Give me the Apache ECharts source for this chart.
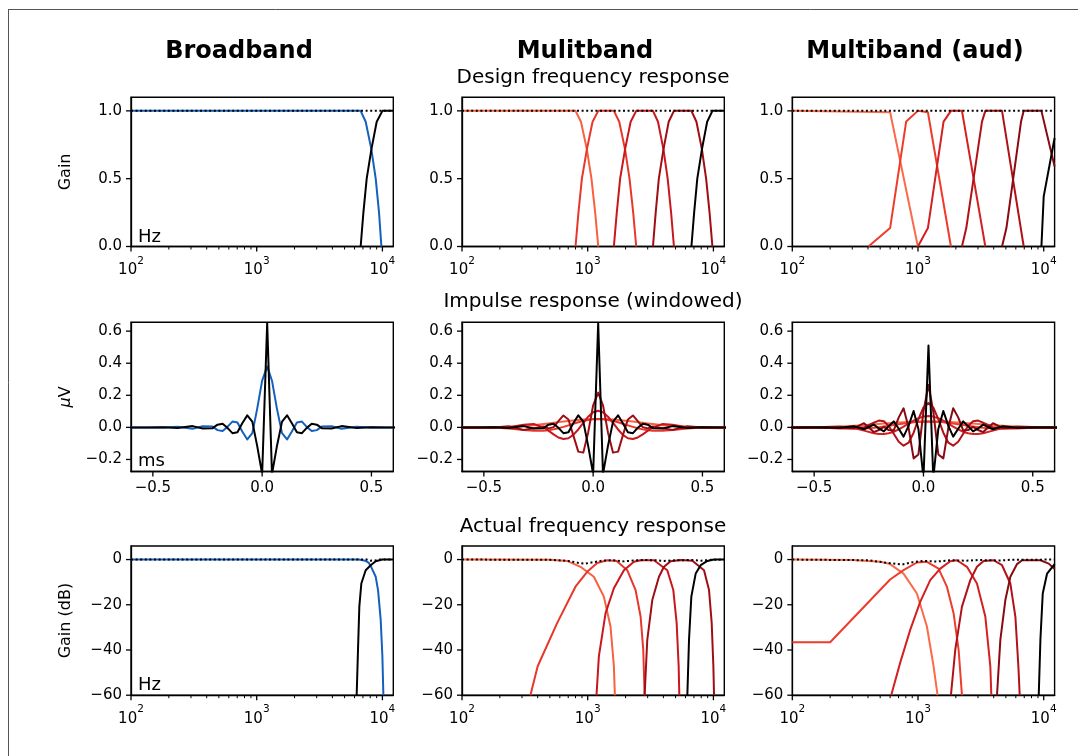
<!DOCTYPE html>
<html>
<head>
<meta charset="utf-8">
<script src="https://cdn.jsdelivr.net/npm/echarts@6.0.0/dist/echarts.min.js"></script>
<style>
  html, body { margin: 0; padding: 0; background: #ffffff; }
  #chart { width: 1078px; height: 756px; }
</style>
</head>
<body>
<div id="chart"></div>
<script>
// ---------- tick positions ----------
const FREQ_TICKS = [100, 1000, 10000];
const FREQ_MINOR = [200, 300, 400, 500, 600, 700, 800, 900, 2000, 3000, 4000, 5000, 6000, 7000, 8000, 9000];
const TIME_TICKS = [-0.5, 0, 0.5];
const GAIN_TICKS = [0, 0.5, 1.0];
const IMP_TICKS = [-0.2, 0, 0.2, 0.4, 0.6];
const DB_TICKS = [-60, -40, -20, 0];

// ---------- column / row titles ----------
const COL_TITLES = ['Broadband', 'Mulitband', 'Multiband (aud)'];
const ROW_TITLES = ['Design frequency response', 'Impulse response (windowed)', 'Actual frequency response'];
const Y_NAMES = ['Gain', '{i|\u03bc}V', 'Gain (dB)'];

// ---------- design frequency response (Hz, linear gain) ----------
const bbDesignLow  = [[100, 1], [6714, 1], [7362, 0.92], [8170, 0.716], [8844, 0.5], [9400, 0.25], [9817, 0]];
const bbDesignHigh = [[6714, 0], [7057, 0.25], [7499, 0.5], [8170, 0.716], [9007, 0.92], [10000, 1], [12207, 1]];
const bbDesignSum  = [[100, 1], [12207, 1]];

const mbDesign1 = [[100, 1], [800, 1], [884, 0.92], [985, 0.716], [1071, 0.5], [1147, 0.25], [1213, 0]];
const mbDesign2 = [[800, 0], [844, 0.25], [899, 0.5], [985, 0.716], [1093, 0.92], [1213, 1], [1615, 1], [1782, 0.92], [1982, 0.716], [2151, 0.5], [2301, 0.25], [2432, 0]];
const mbDesign3 = [[1615, 0], [1703, 0.25], [1811, 0.5], [1982, 0.716], [2196, 0.92], [2432, 1], [3305, 1], [3624, 0.92], [4005, 0.716], [4326, 0.5], [4607, 0.25], [4853, 0]];
const mbDesign4 = [[3305, 0], [3474, 0.25], [3680, 0.5], [4005, 0.716], [4409, 0.92], [4853, 1], [6683, 1], [7329, 0.92], [8102, 0.716], [8749, 0.5], [9320, 0.25], [9820, 0]];
const mbDesignHigh = [[6683, 0], [7026, 0.25], [7443, 0.5], [8102, 0.716], [8918, 0.92], [9820, 1], [12207, 1]];
const mbDesignSum  = [[100, 1], [12207, 1]];

const audDesign1 = [[100, 1], [600, 0.99], [998, 0]];
const audDesign2 = [[403, 0], [600, 0.136], [805, 0.921], [998, 1], [1199, 0.99], [1828, 0]];
const audDesign3 = [[998, 0], [1199, 0.136], [1597, 0.921], [1828, 1], [2237, 1], [3432, 0]];
const audDesign4 = [[2237, 0], [2421, 0.136], [3228, 0.921], [3432, 1], [4660, 1], [6933, 0]];
const audDesign5 = [[4660, 0], [5050, 0.136], [6601, 0.921], [6933, 1], [9588, 1], [12207, 0.59]];
const audDesignHigh = [[9588, 0], [10000, 0.37], [12207, 0.8]];
const audDesignSum  = [[100, 1], [12207, 1]];

// ---------- impulse responses (ms, µV) ----------
const IMP_T = [-0.613, -0.522, -0.454, -0.386, -0.318, -0.272, -0.227, -0.204, -0.181, -0.159, -0.136, -0.113, -0.091, -0.068, -0.045, -0.023, 0.000,
               0.023, 0.045, 0.068, 0.091, 0.114, 0.136, 0.159, 0.182, 0.204, 0.227, 0.250, 0.273, 0.318, 0.363, 0.431, 0.500, 0.568, 0.613];

const bbImpLow  = [0, 0, -0.001, 0.004, -0.008, 0.007, 0.005, -0.017, -0.023, 0.003, 0.036, 0.030, -0.026, -0.075, -0.036, 0.114, 0.291,
                   0.38, 0.291, 0.114, -0.036, -0.075, -0.026, 0.030, 0.036, 0.003, -0.023, -0.017, 0.005, 0.007, -0.008, 0.004, -0.001, 0, 0];
const bbImpHigh = [0, 0, 0.001, -0.004, 0.008, -0.007, -0.005, 0.017, 0.023, -0.003, -0.036, -0.030, 0.026, 0.075, 0.036, -0.114, -0.291,
                   0.65, -0.291, -0.114, 0.036, 0.075, 0.026, -0.030, -0.036, -0.003, 0.023, 0.017, -0.005, -0.007, 0.008, -0.004, 0.001, 0, 0];

const mbImp1 = [0, 0, 0.0003, 0.0025, 0.0081, 0.0138, 0.0209, 0.0248, 0.0288, 0.0328, 0.0366, 0.0403, 0.0436, 0.0465, 0.0489, 0.0506, 0.0516,
                0.052, 0.0516, 0.0506, 0.0489, 0.0465, 0.0436, 0.0403, 0.0366, 0.0328, 0.0288, 0.0248, 0.0209, 0.0138, 0.0081, 0.0025, 0.0003, 0, 0];
const mbImp2 = [0, 0, -0.0008, -0.0068, -0.0168, -0.0215, -0.0208, -0.0177, -0.0125, -0.0055, 0.003, 0.0125, 0.0223, 0.0318, 0.0401, 0.0465, 0.0506,
                0.052, 0.0506, 0.0465, 0.0401, 0.0318, 0.0223, 0.0125, 0.003, -0.0055, -0.0125, -0.0177, -0.0208, -0.0215, -0.0168, -0.0068, -0.0008, 0, 0];
const mbImp3 = [0, 0, -0.0005, 0.0008, 0.0161, 0.0208, -0.0002, -0.0208, -0.0436, -0.0629, -0.0725, -0.0677, -0.047, -0.0131, 0.0277, 0.0663, 0.094,
                0.104, 0.094, 0.0663, 0.0277, -0.0131, -0.047, -0.0677, -0.0725, -0.0629, -0.0436, -0.0208, -0.0002, 0.0208, 0.0161, 0.0008, -0.0005, 0, 0];
const mbImp4 = [0, -0.0002, -0.0001, 0.0075, -0.0168, -0.0054, 0.0054, -0.0061, 0.0012, 0.0394, 0.0745, 0.0494, -0.0485, -0.1512, -0.1574, -0.0331, 0.1377,
                0.2168, 0.1377, -0.0331, -0.1574, -0.1512, -0.0485, 0.0494, 0.0745, 0.0394, 0.0012, -0.0061, 0.0054, -0.0054, -0.0168, 0.0075, -0.0001, -0.0002, 0];
const mbImpHigh = bbImpHigh;

const audImp1 = [0, 0.0002, 0.0014, 0.0045, 0.0096, 0.014, 0.0189, 0.0214, 0.0239, 0.0264, 0.0287, 0.0308, 0.0327, 0.0344, 0.0357, 0.0367, 0.0372,
                 0.0374, 0.0372, 0.0367, 0.0357, 0.0344, 0.0327, 0.0308, 0.0287, 0.0264, 0.0239, 0.0214, 0.0189, 0.014, 0.0096, 0.0045, 0.0014, 0.0002, 0];
const audImp2 = [0, -0.0005, -0.003, -0.0067, -0.0085, -0.0069, -0.0022, 0.0012, 0.0052, 0.0096, 0.0143, 0.0191, 0.0237, 0.0278, 0.0313, 0.0339, 0.0356,
                 0.0361, 0.0356, 0.0339, 0.0313, 0.0278, 0.0237, 0.0191, 0.0143, 0.0096, 0.0052, 0.0012, -0.0022, -0.0069, -0.0085, -0.0067, -0.003, -0.0005, 0];
const audImp3 = [0, 0.0003, 0.0031, 0.0057, -0.0044, -0.0201, -0.0362, -0.0408, -0.0413, -0.0369, -0.0273, -0.0129, 0.0047, 0.0239, 0.0422, 0.0573, 0.0672,
                 0.0707, 0.0672, 0.0573, 0.0422, 0.0239, 0.0047, -0.0129, -0.0273, -0.0369, -0.0413, -0.0408, -0.0362, -0.0201, -0.0044, 0.0057, 0.0031, 0.0003, 0];
const audImp4 = [0, 0.0002, -0.0033, 0.0006, 0, 0, 0.0292, 0.0424, 0.038, 0.0088, -0.0401, -0.0896, -0.1143, -0.0956, -0.0332, 0.0516, 0.1238,
                 0.152, 0.1238, 0.0516, -0.0332, -0.0956, -0.1143, -0.0896, -0.0401, 0.0088, 0.038, 0.0424, 0.0292, 0, 0, 0.0006, -0.0033, 0.0002, 0];
const audImp5 = [0, 0, 0.0031, -0.0017, -0.0051, 0.0264, -0.0294, -0.0166, 0.0031, -0.0166, -0.0183, 0.0623, 0.119, -0.001, -0.1933, -0.1685, 0.0993,
                 0.265, 0.0993, -0.1685, -0.1933, -0.001, 0.119, 0.0623, -0.0183, -0.0166, 0.0031, -0.0166, -0.0294, 0.0264, -0.0051, -0.0017, 0.0031, 0, 0];
const audImpHigh = [0, 0, -0.0012, -0.0021, 0.0075, -0.0116, 0.0172, -0.0065, -0.0252, 0.0076, 0.0372, -0.0084, -0.0575, 0.0091, 0.1023, -0.0095, -0.317,
                    0.51, -0.317, -0.0095, 0.1023, 0.0091, -0.0575, -0.0084, 0.0372, 0.0076, -0.0252, -0.0065, 0.0172, -0.0116, 0.0075, -0.0021, -0.0012, 0, 0];

// ---------- actual frequency response (Hz, dB) ----------
const bbActualLow  = [[100, 0], [6500, 0], [7300, -0.5], [7800, -1.5], [8067, -2.8], [8843, -7.6], [9230, -13.5], [9693, -26.7], [9995, -42.8], [10178, -60]];
const bbActualHigh = [[6240, -60], [6395, -39.9], [6552, -20.8], [6797, -10.6], [7360, -4.7], [8067, -2.5], [8843, -0.75], [10000, 0], [12207, 0]];
const bbActualSum  = [[100, 0], [7500, 0], [8067, -0.5], [8700, -0.4], [9500, 0], [12207, 0]];

const mbActual1 = [[100, 0], [500, -0.1], [686, -0.6], [876, -3.2], [1119, -7.6], [1344, -16.4], [1519, -29.6], [1615, -47.2], [1645, -60]];
const mbActual2 = [[350, -60], [400, -47.2], [571, -28.1], [799, -12], [990, -5.4], [1190, -1.5], [1430, -0.3], [1700, -0.6], [2063, -4.7], [2404, -13.5], [2635, -25.2], [2766, -39.9], [2836, -60]];
const mbActual3 = [[1175, -60], [1227, -42.8], [1387, -23.7], [1615, -12.7], [1941, -4.7], [2331, -1], [2635, -0.3], [3365, -0.3], [4297, -4.7], [4797, -13.5], [5100, -28.1], [5291, -47.2], [5355, -60]];
const mbActual4 = [[2836, -60], [2978, -35.5], [3264, -17.9], [3688, -7.6], [4043, -3.2], [4567, -0.75], [5500, -0.2], [6800, -0.5], [8420, -4.7], [9229, -13.5], [9692, -28.1], [9993, -47.2], [10115, -60]];
const mbActualHigh = [[6203, -60], [6396, -35.5], [6674, -16.4], [7227, -6.2], [7922, -2.5], [8953, -0.6], [10115, 0], [12207, 0]];
const mbActualSum  = [[100, 0], [500, -0.1], [700, -0.6], [850, -1.5], [950, -1.8], [1100, -1.2], [1300, -0.5], [1600, -0.3], [1950, -0.8], [2300, -0.4],
                      [2800, -0.2], [3500, -0.3], [4100, -0.6], [5000, -0.3], [7000, -0.2], [8000, -0.5], [9500, -0.1], [12207, 0]];

const audActual1 = [[100, 0], [300, -0.2], [500, -1.0], [600, -2], [767, -6.2], [980, -15], [1177, -29.6], [1330, -47.2], [1431, -60]];
const audActual2 = [[100, -36.6], [200, -36.6], [600, -8.8], [767, -4.7], [980, -1.3], [1177, -1.0], [1457, -4], [1698, -12], [1919, -23.7], [2104, -39.9], [2237, -60]];
const audActual3 = [[612, -60], [721, -45.7], [867, -31.1], [1041, -18.7], [1251, -9.1], [1503, -4], [1805, -0.75], [2040, -0.3], [2451, -3.2], [2944, -10.6], [3432, -25.2], [3761, -47.2], [3831, -60]];
const audActual4 = [[1828, -60], [1979, -39.9], [2237, -20.8], [2606, -9.1], [2944, -3.2], [3329, -0.6], [3999, -0.3], [4660, -2.5], [5429, -10.6], [5951, -25.2], [6287, -47.2], [6442, -60]];
const audActual5 = [[4250, -60], [4519, -35.5], [4953, -17.9], [5429, -7.6], [6136, -2], [6723, -0.3], [9413, -0.3], [10967, -1.8], [12207, -4.2]];
const audActualHigh = [[9130, -60], [9413, -35.5], [9824, -15], [10639, -6.2], [12207, -2]];
const audActualSum  = [[100, 0], [400, -0.3], [600, -1.6], [750, -2.2], [900, -1.2], [1100, -0.6], [1400, -0.9], [1800, -0.3], [2400, -0.5],
                       [3000, -0.2], [4500, -0.4], [5500, -0.1], [12207, 0]];

// ---------- colours ----------
const BLUE = '#1560bd';
const MB_REDS = ['#f8603f', '#e8372a', '#c8171d', '#a00e15'];
const AUD_REDS = ['#fb6a4a', '#ef3b2c', '#d32020', '#b01217', '#8a0a12'];

// ---------- layout ----------
const FONT = '"DejaVu Sans", Verdana, sans-serif';
const COL_LEFT = [131, 462, 792.3];
const ROW_TOP = [97.3, 322.3, 546];
const PLOT_W = 262.3;
const PLOT_H = 149.2;
const F_MIN = 100, F_MAX = 12207;
const TICK_FS = 15;
const LINE_W = 2.0;

const minusFmt = (v, digits) => {
  const s = Math.abs(v).toFixed(digits);
  return (v < -1e-9 ? '\u2212' : '') + s;
};

const grids = [], xAxes = [], yAxes = [], series = [];
const Y_RANGE = [[0, 1.1], [-0.275, 0.655], [-60, 6]];
const Y_TICKS = [GAIN_TICKS, IMP_TICKS, DB_TICKS];
const Y_DIGITS = [1, 1, 0];

for (let r = 0; r < 3; r++) {
  for (let c = 0; c < 3; c++) {
    const g = r * 3 + c;
    grids.push({
      left: COL_LEFT[c], top: ROW_TOP[r], width: PLOT_W, height: PLOT_H,
      show: true, borderColor: '#000', borderWidth: 1.4, backgroundColor: 'transparent'
    });
    const lineStyle = { color: '#000', width: 1.3 };
    const labelBase = { color: '#000', fontFamily: FONT, fontSize: TICK_FS, margin: 9 };
    if (r === 1) {
      xAxes.push({
        type: 'value', gridIndex: g, min: -0.6, max: 0.6,
        axisLine: { show: true, onZero: false, lineStyle: lineStyle },
        axisTick: { show: false },
        axisLabel: Object.assign({}, labelBase, { customValues: TIME_TICKS, formatter: v => minusFmt(v, 1) }),
        splitLine: { show: false }
      });
    } else {
      xAxes.push({
        type: 'log', logBase: 10, gridIndex: g, min: F_MIN, max: F_MAX,
        axisLine: { show: true, onZero: false, lineStyle: lineStyle },
        axisTick: { show: false },
        axisLabel: Object.assign({}, labelBase, {
          customValues: FREQ_TICKS,
          formatter: v => '{b|10}{s|' + Math.round(Math.log10(v)) + '}',
          rich: {
            b: { fontFamily: FONT, fontSize: TICK_FS, color: '#000', lineHeight: 22, verticalAlign: 'bottom' },
            s: { fontFamily: FONT, fontSize: 10.5, color: '#000', lineHeight: 22, verticalAlign: 'top' }
          }
        }),
        splitLine: { show: false }
      });
    }
    const yAx = {
      type: 'value', gridIndex: g, min: Y_RANGE[r][0], max: Y_RANGE[r][1],
      axisLine: { show: true, onZero: false, lineStyle: lineStyle },
      axisTick: { show: false },
      axisLabel: Object.assign({}, labelBase, { customValues: Y_TICKS[r], formatter: (d => v => minusFmt(v, d))(Y_DIGITS[r]) }),
      splitLine: { show: false }
    };
    if (c === 0) {
      Object.assign(yAx, {
        name: Y_NAMES[r], nameLocation: 'middle', nameRotate: 90, nameGap: 57,
        nameTextStyle: { color: '#000', fontFamily: FONT, fontSize: 16,
                         rich: { i: { fontFamily: FONT, fontSize: 16, fontStyle: 'italic', color: '#000' } } }
      });
    }
    yAxes.push(yAx);
  }
}

function addLine(g, data, color, opt) {
  opt = opt || {};
  series.push({
    type: 'line', xAxisIndex: g, yAxisIndex: g, data: data,
    symbol: 'none', silent: true, animation: false, clip: true,
    z: opt.z || 2,
    lineStyle: { color: color, width: opt.dotted ? 2 : LINE_W, type: opt.dotted ? [2, 2.6] : 'solid', cap: 'butt', join: 'round' }
  });
}
const imp = vals => IMP_T.map((t, i) => [t, vals[i]]);

// Row 1: design frequency response
addLine(0, bbDesignLow, BLUE);
addLine(0, bbDesignHigh, '#000');
addLine(0, bbDesignSum, '#000', { dotted: true, z: 5 });

[mbDesign1, mbDesign2, mbDesign3, mbDesign4].forEach((d, i) => addLine(1, d, MB_REDS[i]));
addLine(1, mbDesignHigh, '#000');
addLine(1, mbDesignSum, '#000', { dotted: true, z: 5 });

[audDesign1, audDesign2, audDesign3, audDesign4, audDesign5].forEach((d, i) => addLine(2, d, AUD_REDS[i]));
addLine(2, audDesignHigh, '#000');
addLine(2, audDesignSum, '#000', { dotted: true, z: 5 });

// Row 2: impulse responses
addLine(3, imp(bbImpLow), BLUE);
addLine(3, imp(bbImpHigh), '#000');

[mbImp1, mbImp2, mbImp3, mbImp4].forEach((d, i) => addLine(4, imp(d), MB_REDS[i]));
addLine(4, imp(mbImpHigh), '#000');

[audImp1, audImp2, audImp3, audImp4, audImp5].forEach((d, i) => addLine(5, imp(d), AUD_REDS[i]));
addLine(5, imp(audImpHigh), '#000');

// Row 3: actual frequency response
addLine(6, bbActualLow, BLUE);
addLine(6, bbActualHigh, '#000');
addLine(6, bbActualSum, '#000', { dotted: true, z: 5 });

[mbActual1, mbActual2, mbActual3, mbActual4].forEach((d, i) => addLine(7, d, MB_REDS[i]));
addLine(7, mbActualHigh, '#000');
addLine(7, mbActualSum, '#000', { dotted: true, z: 5 });

[audActual1, audActual2, audActual3, audActual4, audActual5].forEach((d, i) => addLine(8, d, AUD_REDS[i]));
addLine(8, audActualHigh, '#000');
addLine(8, audActualSum, '#000', { dotted: true, z: 5 });

// ---------- text elements ----------
const textEl = (text, x, y, font, align) => ({
  type: 'text', x: x, y: y, silent: true, z: 10,
  style: { text: text, font: font, fill: '#000', align: align || 'center', verticalAlign: 'middle',
           textAlign: align || 'center', textVerticalAlign: 'middle' }
});
const COL_TITLE_X = [239, 585, 915];
const graphics = [];
COL_TITLES.forEach((t, i) => graphics.push(textEl(t, COL_TITLE_X[i], 52, 'bold 24px ' + FONT)));
const ROW_TITLE_Y = [78, 302, 527];
ROW_TITLES.forEach((t, i) => graphics.push(textEl(t, 593, ROW_TITLE_Y[i], '20px ' + FONT)));
graphics.push(textEl('Hz', 138, 237, '18px ' + FONT, 'left'));
graphics.push(textEl('ms', 138, 461, '18px ' + FONT, 'left'));
graphics.push(textEl('Hz', 138, 685, '18px ' + FONT, 'left'));

// figure frame (top and left edges)
graphics.push({ type: 'line', silent: true, shape: { x1: 8, y1: 9.5, x2: 1078, y2: 9.5 }, style: { stroke: '#555', lineWidth: 1 } });
graphics.push({ type: 'line', silent: true, shape: { x1: 8.5, y1: 9, x2: 8.5, y2: 756 }, style: { stroke: '#555', lineWidth: 1 } });

const chart = echarts.init(document.getElementById('chart'), null, { renderer: 'canvas', width: 1078, height: 756 });
chart.setOption({
  animation: false,
  backgroundColor: '#ffffff',
  textStyle: { fontFamily: FONT },
  grid: grids,
  xAxis: xAxes,
  yAxis: yAxes,
  series: series
});

// Tick marks, placed through each axis' own scale
const tickLine = (x1, y1, x2, y2, w) => ({
  type: 'line', silent: true, z: 10,
  shape: { x1: x1, y1: y1, x2: x2, y2: y2 },
  style: { stroke: '#000', lineWidth: w }
});
for (let g = 0; g < 9; g++) {
  const r = Math.floor(g / 3);
  const xMin = r === 1 ? -0.6 : F_MIN;
  const left = chart.convertToPixel({ xAxisIndex: g }, xMin);
  const bottom = chart.convertToPixel({ yAxisIndex: g }, Y_RANGE[r][0]);
  const majors = r === 1 ? TIME_TICKS : FREQ_TICKS;
  majors.forEach(v => {
    const px = chart.convertToPixel({ xAxisIndex: g }, v);
    graphics.push(tickLine(px, bottom, px, bottom + 5, 1.3));
  });
  if (r !== 1) {
    FREQ_MINOR.forEach(v => {
      const px = chart.convertToPixel({ xAxisIndex: g }, v);
      graphics.push(tickLine(px, bottom, px, bottom + 3, 1.0));
    });
  }
  Y_TICKS[r].forEach(v => {
    const py = chart.convertToPixel({ yAxisIndex: g }, v);
    graphics.push(tickLine(left - 5, py, left, py, 1.3));
  });
}
chart.setOption({ graphic: graphics });
</script>
</body>
</html>
